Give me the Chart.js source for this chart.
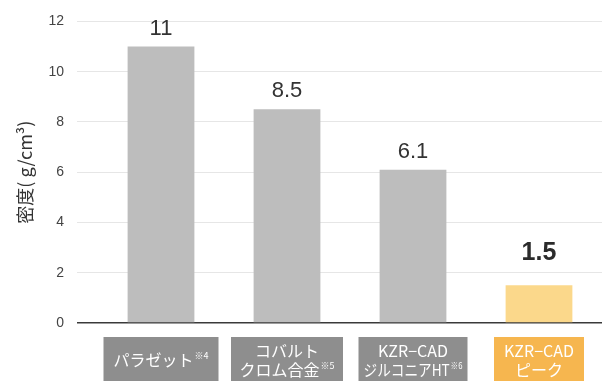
<!DOCTYPE html>
<html><head><meta charset="utf-8">
<script src="https://cdn.jsdelivr.net/npm/chart.js@4/dist/chart.umd.min.js"></script>
<style>html,body{margin:0;padding:0;background:#fff}#wrap{width:602px;height:381px}</style>
</head><body><div id="wrap"><canvas id="c" width="602" height="381"></canvas></div>
<script>
const categoryLines = [["パラゼット"], ["コバルト", "クロム合金"], ["KZR−CAD", "ジルコニアHT"], ["KZR−CAD", "ピーク"]];
const categoryNotes = ["※4", "※5", "※6", ""];
const densities = [11, 8.5, 6.1, 1.5];
const valueLabels = ["11", "8.5", "6.1", "1.5"];
const yTicks = [0, 2, 4, 6, 8, 10, 12];

const highlight = 3;
const barColors = densities.map((v, i) => i === highlight ? '#fbd88b' : '#bdbdbd');
const boxColors = densities.map((v, i) => i === highlight ? '#f6b64f' : '#8e8e8e');
const boxWidths = [115, 112, 109, 90];

const numFont = '"Liberation Sans", Arial, sans-serif';
const jpFont = '"Noto Sans CJK JP", "Liberation Sans", sans-serif';

const overlay = {
  id: 'overlay',
  afterDraw(chart) {
    const ctx = chart.ctx;
    const meta = chart.getDatasetMeta(0);
    const xs = chart.scales.x;
    const area = chart.chartArea;
    ctx.save();
    meta.data.forEach((bar, i) => {
      const hl = i === highlight;
      ctx.font = (hl ? 'bold 25px ' : '22px ') + numFont;
      ctx.fillStyle = hl ? '#2b2b2b' : '#333';
      ctx.textAlign = 'center';
      ctx.textBaseline = 'alphabetic';
      ctx.fillText(valueLabels[i], bar.x, bar.y - (hl ? 25 : 12));
    });
    categoryLines.forEach((lines, i) => {
      const cx = xs.getPixelForValue(i);
      const w = boxWidths[i];
      const top = area.bottom + 14;
      ctx.fillStyle = boxColors[i];
      ctx.fillRect(cx - w / 2, top, w, chart.height - top);
      ctx.fillStyle = '#fff';
      ctx.textBaseline = 'middle';
      const lh = 19;
      const midY = top + (chart.height - top) / 2 + 1;
      const y0 = midY - (lines.length - 1) * lh / 2;
      lines.forEach((ln, j) => {
        const isLast = j === lines.length - 1;
        const note = isLast ? categoryNotes[i] : '';
        ctx.font = '16px ' + jpFont;
        const w1 = ctx.measureText(ln).width;
        ctx.font = '9px ' + jpFont;
        const w2 = note ? ctx.measureText(note).width + 1 : 0;
        const k = Math.min(1, (w - 10) / (w1 + w2));
        const y = y0 + j * lh;
        ctx.save();
        ctx.translate(cx, y);
        ctx.scale(k, 1);
        const startX = -(w1 + w2) / 2;
        ctx.textAlign = 'left';
        ctx.font = '16px ' + jpFont;
        ctx.fillText(ln, startX, 0);
        if (note) {
          ctx.font = '9px ' + jpFont;
          ctx.fillText(note, startX + w1 + 1, -4);
        }
        ctx.restore();
      });
    });
    ctx.restore();
  }
};

new Chart(document.getElementById('c'), {
  type: 'bar',
  data: {
    labels: categoryLines.map(l => l.join('')),
    datasets: [{ data: densities, backgroundColor: barColors, borderWidth: 0,
      barPercentage: 0.53, categoryPercentage: 1 }]
  },
  options: {
    responsive: false, animation: false,
    layout: { padding: { top: 20, right: 0, bottom: 58, left: 0 } },
    plugins: { legend: { display: false }, tooltip: { enabled: false } },
    scales: {
      x: { display: false },
      y: {
        min: 0, max: 12,
        afterFit(s) { s.width = 98; },
        afterBuildTicks(s) { s.ticks = yTicks.map(v => ({ value: v })); },
        border: { display: false },
        grid: {
          color: c => c.tick && c.tick.value === 0 ? '#3a3a3a' : '#e6e6e6',
          lineWidth: c => c.tick && c.tick.value === 0 ? 1.5 : 1,
          tickLength: 21, drawTicks: true
        },
        ticks: { padding: 13, color: '#444', font: { family: numFont, size: 14 } },
        title: { display: true, text: '密度( g/cm³)', color: '#333',
          font: { family: jpFont, size: 18 }, padding: { top: 14, bottom: 0 } }
      }
    }
  },
  plugins: [overlay]
});
</script></body></html>
